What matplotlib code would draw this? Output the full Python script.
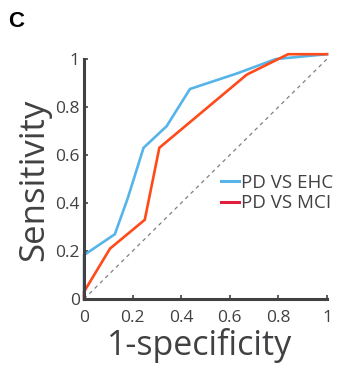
import matplotlib
matplotlib.use("Agg")
import matplotlib.pyplot as plt
from matplotlib.lines import Line2D

# Data
ehc_fpr = [0.0, 0.0, 0.127, 0.18, 0.245, 0.34, 0.436, 0.63, 0.79, 1.0]
ehc_tpr = [0.0, 0.183, 0.27, 0.42, 0.63, 0.72, 0.875, 0.94, 1.0, 1.02]
mci_fpr = [0.0, 0.0, 0.107, 0.25, 0.31, 0.67, 0.84, 1.0]
mci_tpr = [0.0, 0.03, 0.21, 0.33, 0.63, 0.935, 1.02, 1.02]
chance = [0.0, 1.0]
ticks = [0, 0.2, 0.4, 0.6, 0.8, 1]
tick_labels = ["0", "0.2", "0.4", "0.6", "0.8", "1"]
series_names = ["PD VS EHC", "PD VS MCI"]

gray = "#414042"
blue = "#56B4E9"
red = "#FF4A1A"
legend_red = "#E0203A"

plt.rcParams['font.family'] = ['Open Sans', 'DejaVu Sans']

fig = plt.figure(figsize=(3.6, 3.81), dpi=100)
W, H = 360, 381
x0, x1 = 84, 327
y0 = 299
ppu = 240
ax = fig.add_axes([x0 / W, (H - y0) / H, (x1 - x0) / W, 1.03 * ppu / H])
ax.set_xlim(0, 1)
ax.set_ylim(0, 1.03)

ax.plot(chance, chance, linestyle=(0, (3, 3)), color="#808080", lw=0.9, clip_on=False)
ax.plot(ehc_fpr, ehc_tpr, color=blue, lw=1.9, clip_on=False, solid_joinstyle='miter')
ax.plot(mci_fpr, mci_tpr, color=red, lw=1.9, clip_on=False, solid_joinstyle='miter')

for s in ["top", "right"]:
    ax.spines[s].set_visible(False)
for s in ["left", "bottom"]:
    ax.spines[s].set_color(gray)
    ax.spines[s].set_linewidth(2.2)
ax.spines["left"].set_bounds(0, 1)
ax.spines["bottom"].set_bounds(0, 1)

ax.set_xticks(ticks)
ax.set_xticklabels(tick_labels)
ax.set_yticks(ticks)
ax.set_yticklabels(tick_labels)
ax.tick_params(axis='both', direction='in', length=3, width=1.2, color=gray,
               labelcolor=gray, labelsize=12.5)
ax.tick_params(axis='x', pad=8)
ax.tick_params(axis='y', pad=3)
for lab in ax.get_yticklabels():
    lab.set_verticalalignment('center_baseline')

fig.text(200 / W, 1 - 355 / H, "1-specificity", fontsize=24.5, color=gray,
         ha='center', va='baseline')
fig.text(17 / W, 1 - 180 / H, "Sensitivity", fontsize=25, color=gray,
         ha='left', va='center', rotation=90)

fig.text(8 / W, 1 - 27 / H, "C", fontsize=16, fontweight='bold', color='black',
         family=['Liberation Sans', 'DejaVu Sans'], ha='left', va='baseline')

handles = [Line2D([0], [0], color=blue, lw=2.2),
           Line2D([0], [0], color=legend_red, lw=2.2)]
leg = fig.legend(handles, series_names, loc='upper left',
                 bbox_to_anchor=(221 / W, 1 - 174 / H), frameon=False,
                 fontsize=13.5, handlelength=0.95, handletextpad=0.12,
                 borderpad=0, borderaxespad=0, labelspacing=0.12)
for t in leg.get_texts():
    t.set_color(gray)

fig.savefig("out.png", dpi=100)
